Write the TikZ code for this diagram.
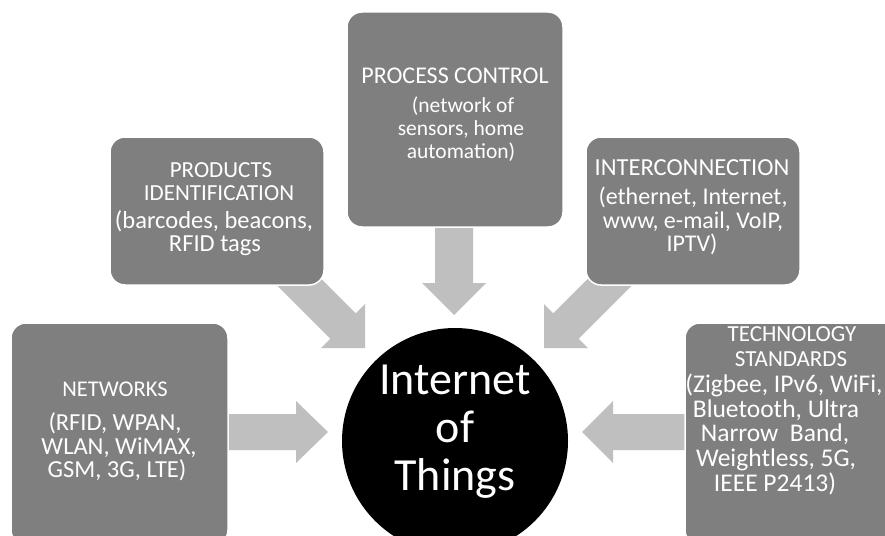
\documentclass[tikz,border=0pt]{standalone}
\usepackage{fontspec}
\setmainfont{Carlito}
\definecolor{boxgray}{HTML}{7F7F7F}
\definecolor{arrowgray}{HTML}{BFBFBF}
\begin{document}
\begin{tikzpicture}[x=1pt,y=-1pt,
  box/.style={rectangle, rounded corners=15pt, fill=boxgray, draw=white, line width=1.5pt, inner sep=0pt},
  lbl/.style={anchor=base, text=white, inner sep=0pt, font=\fontsize{#1}{#1}\selectfont},
  arr/.style={fill=arrowgray}]
\useasboundingbox (0,0) rectangle (885,535);
\fill[white] (0,0) rectangle (885,535);
\clip (0,0) rectangle (885,535);

% block arrows
\fill[arr] (220,414) -- (296,414) -- (296,401) -- (328,432) -- (296,463) -- (296,450) -- (220,450) -- cycle;
\fill[arr] (690,414) -- (613,414) -- (613,401) -- (582,432) -- (613,463) -- (613,450) -- (690,450) -- cycle;
\fill[arr] (435,220) -- (435,283) -- (422,283) -- (454,315) -- (486,283) -- (473,283) -- (473,220) -- cycle;
\fill[arr] (299.2,256.8) -- (355.8,313.4) -- (365,304.2) -- (365,348) -- (321.2,348) -- (330.4,338.8) -- (273.8,282.2) -- cycle;
\fill[arr] (609.8,256.8) -- (553.2,313.4) -- (544,304.2) -- (544,348) -- (587.8,348) -- (578.6,338.8) -- (635.2,282.2) -- cycle;

% boxes
\node[box, minimum width=216, minimum height=215] (proc) at (455,119.5) {};
\node[box, minimum width=214, minimum height=148] (prod) at (217,211) {};
\node[box, minimum width=214, minimum height=148] (inter) at (693,211) {};
\node[box, minimum width=217, minimum height=222] (net) at (119.5,434) {};
\node[box, minimum width=215, minimum height=222] (tech) at (792.5,434) {};

% centre
\node[circle, fill=black, minimum size=226, inner sep=0pt] (iot) at (455,441) {};
\node[lbl=46] (iot1) at (455,394) {Internet};
\node[lbl=46] (iot2) at (455,442) {of};
\node[lbl=46] (iot3) at (455,490) {Things};

% process control
\node[lbl=24] (p1) at (455,83) {PROCESS CONTROL};
\node[lbl=21.5] (p2) at (463,112) {(network of};
\node[lbl=21.5] (p3) at (461,135) {sensors, home};
\node[lbl=21.5] (p4) at (461,158) {automation)};

% products identification
\node[lbl=23] (d1) at (221,177) {PRODUCTS};
\node[lbl=23] (d2) at (219,200) {IDENTIFICATION};
\node[lbl=24.5] (d3) at (214,228) {(barcodes, beacons,};
\node[lbl=24.5] (d4) at (215,251) {RFID tags};

% interconnection
\node[lbl=24.5] (i1) at (692,175) {INTERCONNECTION};
\node[lbl=24] (i2) at (693,204) {(ethernet, Internet,};
\node[lbl=24] (i3) at (693,228) {www, e-mail, VoIP,};
\node[lbl=24] (i4) at (692,251) {IPTV)};

% networks
\node[lbl=22.5] (n1) at (115,396) {NETWORKS};
\node[lbl=24.5] (n2) at (115,430) {(RFID, WPAN,};
\node[lbl=24.5] (n3) at (119,454) {WLAN, WiMAX,};
\node[lbl=24.5] (n4) at (117,477) {GSM, 3G, LTE)};

% technology standards
\node[lbl=23] (t1) at (792,341) {TECHNOLOGY};
\node[lbl=23] (t2) at (791,366) {STANDARDS};
\node[lbl=25.5] (t3) at (784,392) {(Zigbee, IPv6, WiFi,};
\node[lbl=25.5] (t4) at (776,417) {Bluetooth, Ultra};
\node[lbl=25.5] (t5) at (775,441) {Narrow\ \ Band,};
\node[lbl=25.5] (t6) at (776,466) {Weightless, 5G,};
\node[lbl=25.5] (t7) at (775,491) {IEEE P2413)};
\end{tikzpicture}
\end{document}
